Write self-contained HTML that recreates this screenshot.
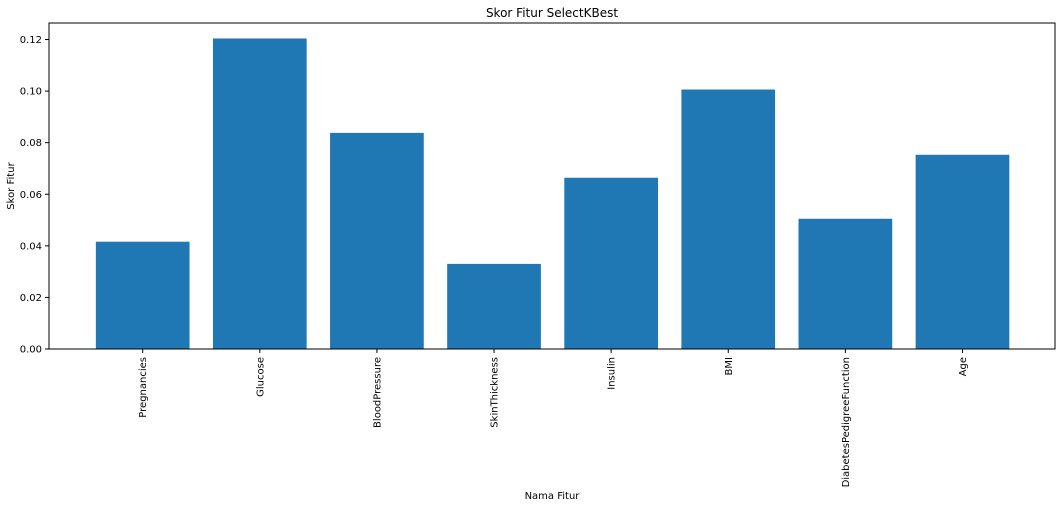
<!DOCTYPE html>
<html><head><meta charset="utf-8"><style>
body{margin:0;background:#fff;font-family:"Liberation Sans","DejaVu Sans",sans-serif;}
</style></head><body>
<svg width="1062" height="508" xmlns="http://www.w3.org/2000/svg" font-family="'DejaVu Sans','Liberation Sans',sans-serif">
<text x="552" y="17" font-size="12" text-anchor="middle">Skor Fitur SelectKBest</text>
<g id="bars"></g>
<g id="yaxis"></g>
<g id="xaxis"></g>
<rect x="49" y="23" width="1006" height="326" fill="none" stroke="#000" stroke-width="1"/>
<text x="552" y="499" font-size="10" text-anchor="middle">Nama Fitur</text>
<text transform="translate(14,186) rotate(-90)" font-size="10" text-anchor="middle">Skor Fitur</text>
</svg>
<script>
const categories=["Pregnancies","Glucose","BloodPressure","SkinThickness","Insulin","BMI","DiabetesPedigreeFunction","Age"];
const values=[0.0416,0.1204,0.0838,0.0330,0.0664,0.1006,0.0505,0.0753];
const yTicks=[0,0.02,0.04,0.06,0.08,0.10,0.12];
const yTickLabels=["0.00","0.02","0.04","0.06","0.08","0.10","0.12"];
const L=49,R=1055,T=23,B=349;
const xmin=-0.80,xmax=categories.length-1+0.79;
const ymax=0.1264;
const x=v=>L+(v-xmin)/(xmax-xmin)*(R-L);
const y=v=>B-v/ymax*(B-T);
const NS="http://www.w3.org/2000/svg";
const bars=document.getElementById('bars'),ya=document.getElementById('yaxis'),xa=document.getElementById('xaxis');
const bw=(x(0.8)-x(0));
values.forEach((v,i)=>{
 const r=document.createElementNS(NS,'rect');
 r.setAttribute('x',x(i)-bw/2);r.setAttribute('y',y(v));r.setAttribute('width',bw);r.setAttribute('height',B-y(v));r.setAttribute('fill','#1f77b4');
 
 
 bars.appendChild(r);
 const t=document.createElementNS(NS,'line');
 t.setAttribute('x1',x(i));t.setAttribute('x2',x(i));t.setAttribute('y1',B);t.setAttribute('y2',B+4);t.setAttribute('stroke','#000');
 xa.appendChild(t);
 const lb=document.createElementNS(NS,'text');
 lb.setAttribute('transform',`translate(${x(i)+3.5},${B+8}) rotate(-90)`);
 lb.setAttribute('font-size','10');lb.setAttribute('text-anchor','end');
 lb.textContent=categories[i];
 
 
 xa.appendChild(lb);
});
yTicks.forEach((v,i)=>{
 const t=document.createElementNS(NS,'line');
 t.setAttribute('x1',L-4);t.setAttribute('x2',L);t.setAttribute('y1',y(v));t.setAttribute('y2',y(v));t.setAttribute('stroke','#000');
 ya.appendChild(t);
 const lb=document.createElementNS(NS,'text');
 lb.setAttribute('x',L-7);lb.setAttribute('y',y(v)+3.5);lb.setAttribute('font-size','10');lb.setAttribute('text-anchor','end');
 lb.textContent=yTickLabels[i];
 
 
 ya.appendChild(lb);
});
</script>
</body></html>
